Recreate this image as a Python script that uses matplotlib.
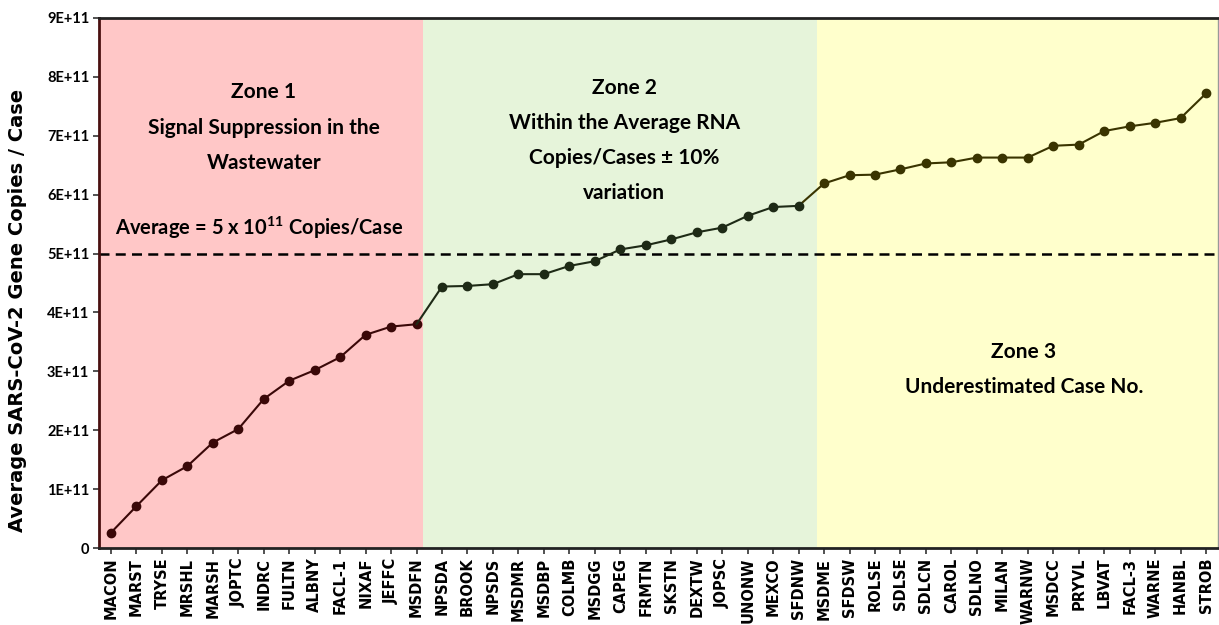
import numpy as np
import matplotlib
matplotlib.use('Agg')
import matplotlib.pyplot as plt
from matplotlib.ticker import FuncFormatter

plt.rcParams['mathtext.default'] = 'regular'

# Sites ordered by average copies/case, split into the three zones
zone1_sites = ['MACON', 'MARST', 'TRYSE', 'MRSHL', 'MARSH', 'JOPTC', 'INDRC', 'FULTN',
               'ALBNY', 'FACL-1', 'NIXAF', 'JEFFC', 'MSDFN']
zone2_sites = ['NPSDA', 'BROOK', 'NPSDS', 'MSDMR', 'MSDBP', 'COLMB', 'MSDGG', 'CAPEG',
               'FRMTN', 'SKSTN', 'DEXTW', 'JOPSC', 'UNONW', 'MEXCO', 'SFDNW']
zone3_sites = ['MSDME', 'SFDSW', 'ROLSE', 'SDLSE', 'SDLCN', 'CAROL', 'SDLNO', 'MILAN',
               'WARNW', 'MSDCC', 'PRYVL', 'LBVAT', 'FACL-3', 'WARNE', 'HANBL', 'STROB']

# values in units of 1E+11 gene copies / case
zone1_vals = [0.26, 0.71, 1.15, 1.39, 1.79, 2.02, 2.53, 2.84, 3.02, 3.24, 3.62, 3.76, 3.80]
zone2_vals = [4.44, 4.45, 4.48, 4.65, 4.65, 4.79, 4.87, 5.07, 5.14, 5.24, 5.36, 5.44,
              5.64, 5.79, 5.81]
zone3_vals = [6.19, 6.33, 6.34, 6.43, 6.53, 6.55, 6.63, 6.63, 6.63, 6.83, 6.85, 7.08,
              7.16, 7.22, 7.30, 7.72]

average = 5e11
y_ticks = [0, 1e11, 2e11, 3e11, 4e11, 5e11, 6e11, 7e11, 8e11, 9e11]

sites = zone1_sites + zone2_sites + zone3_sites
vals = np.array(zone1_vals + zone2_vals + zone3_vals) * 1e11
x = np.arange(len(sites))
n1, n2 = len(zone1_sites), len(zone2_sites)

fig = plt.figure(figsize=(12.19, 6.25), dpi=100)
ax = fig.add_axes([0.0812, 0.1232, 0.918, 0.848])

# zone backgrounds
b1 = n1 - 0.75
b2 = n1 + n2 - 0.28
ax.axvspan(-0.5, b1, color='#ffc7c7', lw=0, zorder=0)
ax.axvspan(b1, b2, color='#e6f4da', lw=0, zorder=0)
ax.axvspan(b2, len(sites) - 0.5, color='#ffffcc', lw=0, zorder=0)

# average line
ax.axhline(average, color='black', ls=(0, (4, 2.5)), lw=1.8, zorder=2)

# the series, coloured per zone
c1, c2, c3 = '#3a0808', '#1e2a16', '#3a3400'
ax.plot(x[:n1], vals[:n1], '-o', color=c1, lw=1.5, ms=6, zorder=3)
ax.plot(x[n1 - 1:n1 + n2], vals[n1 - 1:n1 + n2], '-', color=c2, lw=1.5, zorder=3)
ax.plot(x[n1:n1 + n2], vals[n1:n1 + n2], 'o', color=c2, ms=6, zorder=4)
ax.plot(x[n1 + n2 - 1:], vals[n1 + n2 - 1:], '-', color=c3, lw=1.5, zorder=3)
ax.plot(x[n1 + n2:], vals[n1 + n2:], 'o', color=c3, ms=6, zorder=4)

ax.set_xlim(-0.47, len(sites) - 0.53)
ax.set_ylim(0, 9e11)
ax.set_xticks(x)
ax.set_xticklabels(sites, rotation=90, fontsize=10.5, fontweight='bold', family='DejaVu Sans')
ax.set_yticks(y_ticks)
ax.yaxis.set_major_formatter(FuncFormatter(lambda v, p: '0' if v == 0 else '%dE+11' % round(v / 1e11)))
for lbl in ax.get_yticklabels():
    lbl.set_family(['Liberation Sans Narrow', 'Lato'])
    lbl.set_fontweight('bold')
    lbl.set_fontsize(10.5)
ax.tick_params(axis='both', direction='out', length=4, width=1.2, color='#333333', pad=3)

ax.set_ylabel('Average SARS-CoV-2 Gene Copies / Case', fontsize=14, fontweight='bold',
              family='DejaVu Sans')
ax.yaxis.set_label_coords(-0.064, 0.449)

for side in ['top', 'bottom']:
    ax.spines[side].set_linewidth(2)
    ax.spines[side].set_color('#222222')
ax.spines['left'].set_color('#4a1010')
ax.spines['left'].set_linewidth(2)
ax.spines['right'].set_color('#999999')
ax.spines['right'].set_linewidth(1)

zfont = dict(family='Lato', fontweight='bold', fontsize=15, ha='center', va='center',
             linespacing=1.95, zorder=5)
ax.text(6.0, 7.14e11, 'Zone 1\nSignal Suppression in the\nWastewater', **zfont)
ax.text(5.8, 5.43e11, 'Average = 5 x 10$^{11}$ Copies/Case', **dict(zfont, fontsize=14.5))
ax.text(20.15, 6.92e11, 'Zone 2\nWithin the Average RNA\nCopies/Cases \u00b1 10%\nvariation', **zfont)
ax.text(35.85, 3.03e11, 'Zone 3\nUnderestimated Case No.', **zfont)

fig.savefig('out.png', dpi=100)
